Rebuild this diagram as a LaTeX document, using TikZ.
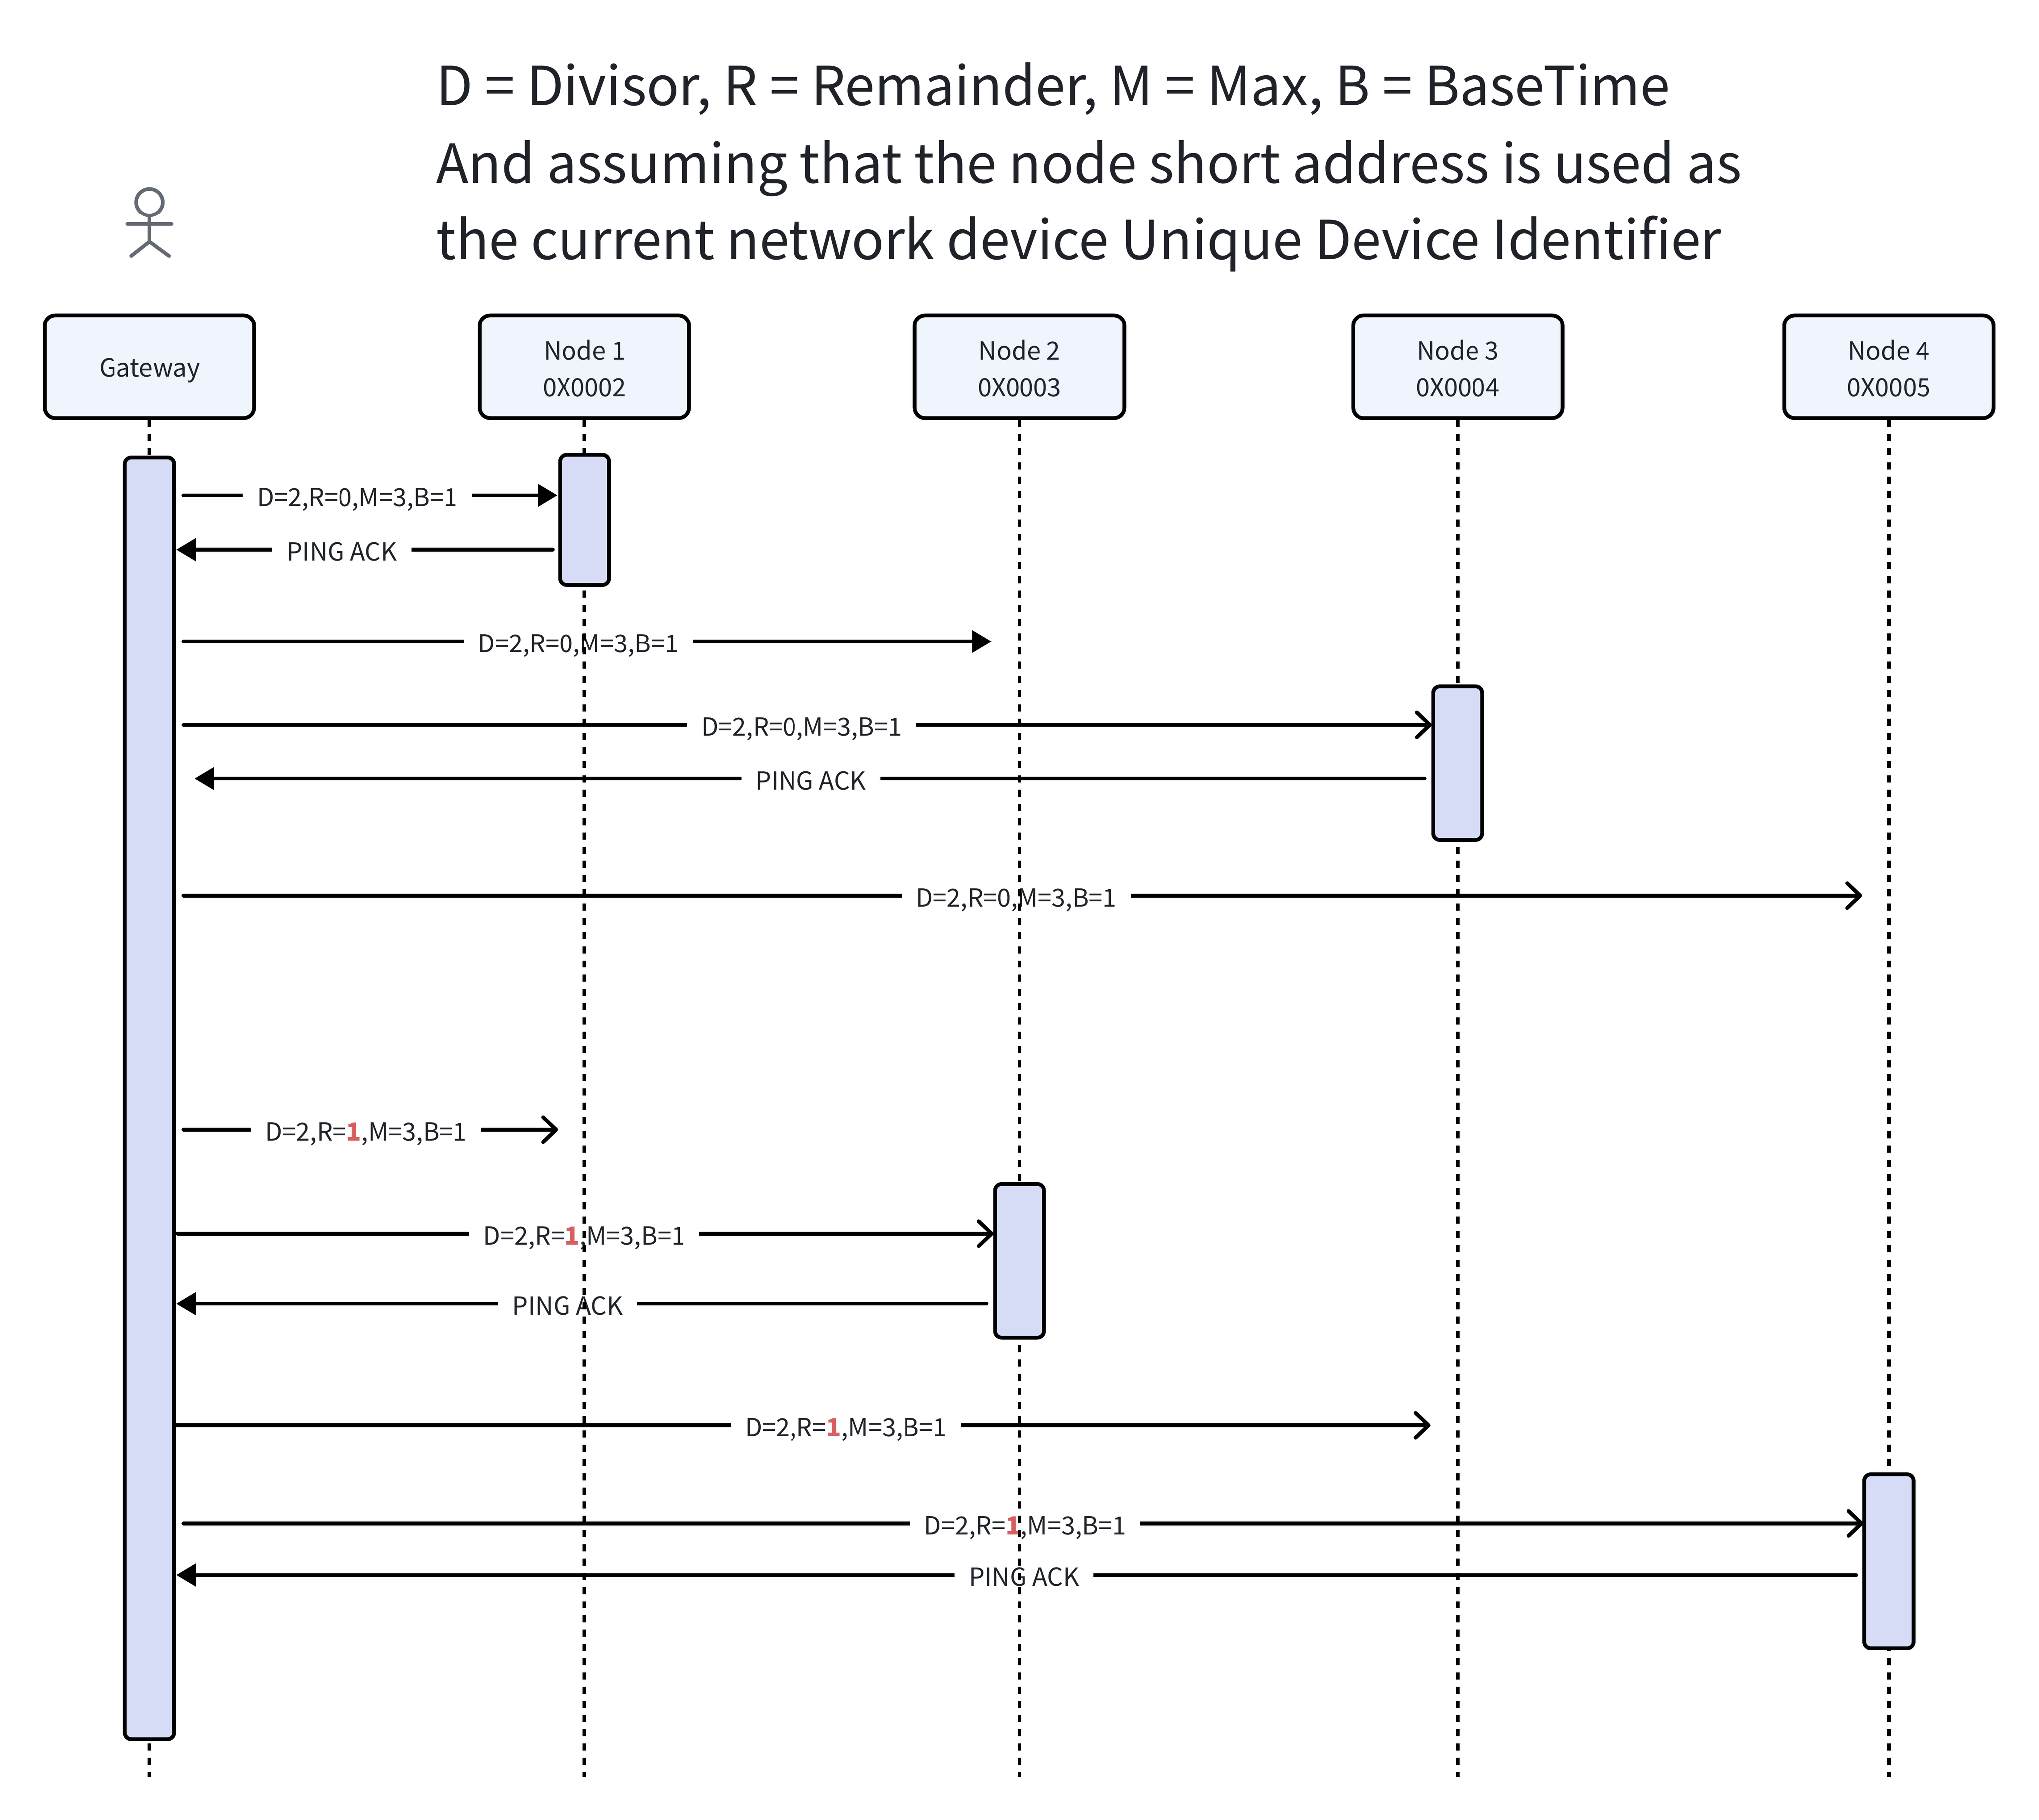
\documentclass[tikz,border=0pt]{standalone}
\usepackage{fontspec}
\setmainfont{Noto Sans CJK SC}
\usetikzlibrary{arrows.meta}
\definecolor{ink}{HTML}{1F2329}
\definecolor{boxfill}{HTML}{EFF4FD}
\definecolor{actfill}{HTML}{D6DCF5}
\definecolor{actor}{HTML}{646A73}
\definecolor{hot}{HTML}{D75F5F}
\tikzset{
  x=0.5pt,y=-0.5pt,
  titletext/.style={anchor=west,inner sep=0pt,text=ink,font=\fontsize{20.65}{30}\selectfont},
  head/.style={draw=black,fill=boxfill,line width=1.45pt,rounded corners=4pt,minimum width=80.5pt,minimum height=39.5pt,inner sep=0pt,text=ink,align=center,font=\fontsize{9.6}{14}\selectfont},
  activation/.style={draw=black,fill=actfill,line width=1.45pt,rounded corners=2.5pt,minimum width=18.9pt,inner sep=0pt},
  lifeline/.style={line width=1.45pt,dash pattern=on 2.737pt off 2.737pt},
  msg/.style={line width=1.45pt,line cap=round},
  solidtip/.style={-{Triangle[length=7.5pt,width=8.5pt]}},
  opentip/.style={-{Straight Barb[length=5pt,width=9.5pt,round]}},
  lab/.style={fill=white,inner xsep=5.5pt,inner ysep=1pt,yshift=-0.75pt,text height=7pt,text depth=0pt,text=ink,font=\fontsize{9.55}{12}\selectfont},
}
\newcommand{\rone}{\textcolor{hot}{\bfseries 1}}
\begin{document}
\begin{tikzpicture}
\useasboundingbox (0,0) rectangle (1568,1400);
% title
\node[titletext] (t1) at (335,68.5) {D = Divisor, R = Remainder, M = Max, B = BaseTime};
\node[titletext] (t2) at (335,129.5) {And assuming that the node short address is used as};
\node[titletext] (t3) at (335,187.5) {the current network device Unique Device Identifier};
% actor
\begin{scope}[draw=actor,line width=1.4pt,line cap=round]
\coordinate (hip) at (115,186);
\coordinate (armL) at (98,172.5);
\coordinate (armR) at (132,172.5);
\coordinate (legL) at (101,197);
\coordinate (legR) at (130,197);
\node[circle,draw=actor,line width=1.4pt,minimum size=10.2pt,inner sep=0pt] (ahead) at (115,155.5) {};
\draw (ahead.south) -- (hip);
\draw (armL) -- (armR);
\draw (legL) -- (hip) -- (legR);
\end{scope}
% head boxes
\node[head] (h0) at (115,282) {\rule{0pt}{10pt}Gateway};
\node[head] (h1) at (449.5,282) {\rule{0pt}{9pt}Node 1\\0X0002};
\node[head] (h2) at (784,282) {\rule{0pt}{9pt}Node 2\\0X0003};
\node[head] (h3) at (1121,282) {\rule{0pt}{9pt}Node 3\\0X0004};
\node[head] (h4) at (1452.5,282) {\rule{0pt}{9pt}Node 4\\0X0005};
% free ends
\foreach \n/\x in {0/115,1/449.5,2/784,3/1121,4/1452.5}{\coordinate (e\n) at (\x,1367);}
\foreach \n/\px/\py in {
 a/141/381, b/428.5/381, c/425/423, d/135.5/423,
 e/141/493.5, f/762.5/493.5, g/141/557.5, h/1101/557.5,
 i/1095.5/599, j/149.5/599, k/141/689, l/1432/689,
 m/141/869, n/429/869, o/136.5/949, p/764/949,
 q/758.5/1003, r/135.5/1003, s/135/1096.5, t/1100/1096.5,
 u/141/1172, v/1433/1172, w/1427.5/1211.5, y/135.5/1211.5}{\coordinate (\n) at (\px,\py);}
% messages
\draw[msg,solidtip] (a) -- node[lab,pos=0.4652] (l1) {D=2,R=0,M=3,B=1} (b);
\draw[msg,solidtip] (c) -- node[lab,pos=0.56] (l2) {PING ACK} (d);
\draw[msg,solidtip] (e) -- node[lab,pos=0.4887] (l3) {D=2,R=0,M=3,B=1} (f);
\draw[msg,opentip] (g) -- node[lab,pos=0.4953] (l4) {D=2,R=0,M=3,B=1} (h);
\draw[msg,solidtip] (i) -- node[lab,pos=0.4989] (l5) {PING ACK} (j);
\draw[msg,opentip] (k) -- node[lab,pos=0.4961] (l6) {D=2,R=0,M=3,B=1} (l);
\draw[msg,opentip] (m) -- node[lab,pos=0.4879] (l7) {D=2,R=\rone,M=3,B=1} (n);
\draw[msg,opentip] (o) -- node[lab,pos=0.4984] (l8) {D=2,R=\rone,M=3,B=1} (p);
\draw[msg,solidtip] (q) -- node[lab,pos=0.5169] (l9) {PING ACK} (r);
\draw[msg,opentip] (s) -- node[lab,pos=0.5342] (l10) {D=2,R=\rone,M=3,B=1} (t);
\draw[msg,opentip] (u) -- node[lab,pos=0.501] (l11) {D=2,R=\rone,M=3,B=1} (v);
\draw[msg,solidtip] (w) -- node[lab,pos=0.4954] (l12) {PING ACK} (y);
% lifelines
\foreach \n in {0,1,2,3,4}{\draw[lifeline] (h\n.south) -- (e\n);}
% activations
\node[activation,minimum height=493pt] (a0) at (115,845) {};
\node[activation,minimum height=50pt] (a1) at (449.5,400) {};
\node[activation,minimum height=59pt] (a3) at (1121,587) {};
\node[activation,minimum height=59pt] (a2) at (784,970) {};
\node[activation,minimum height=67pt] (a4) at (1452.5,1201) {};
\end{tikzpicture}
\end{document}
